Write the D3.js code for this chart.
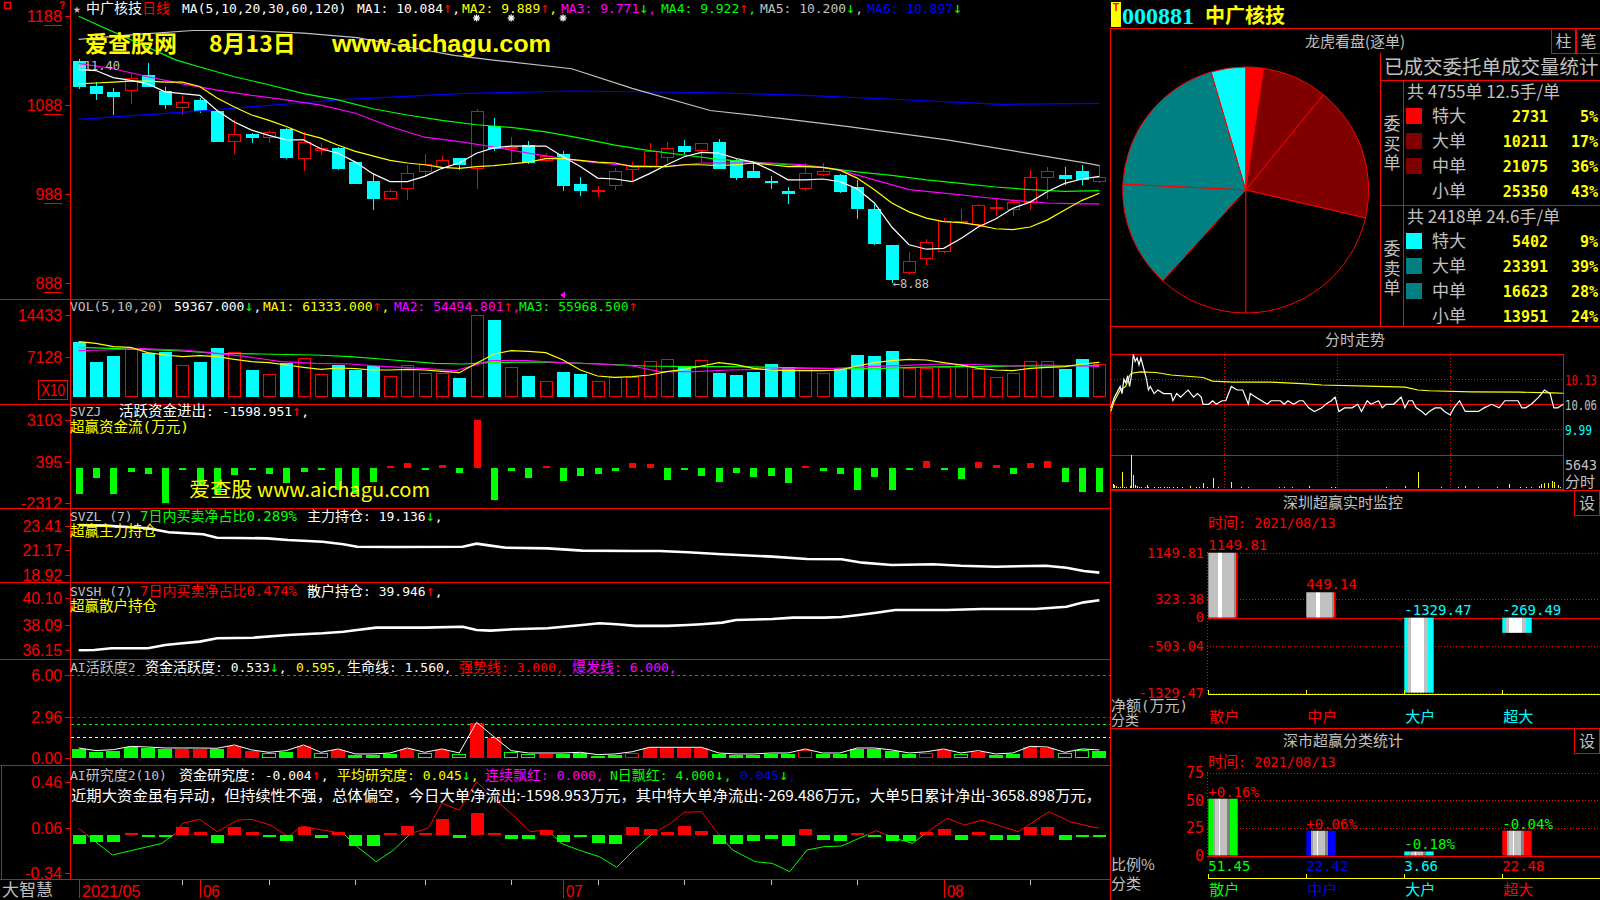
<!DOCTYPE html>
<html><head><meta charset="utf-8">
<script src="https://cdn.jsdelivr.net/npm/d3@7/dist/d3.min.js"></script>
<style>
html,body{margin:0;padding:0;background:#000;overflow:hidden;}
svg{display:block;}
</style></head><body>
<svg id="chart" width="1600" height="900"></svg>
<script>
// ================= DATA =================
const candleOpen  = [11.38,11.10,11.03,11.04,11.22,11.04,10.85,10.94,10.82,10.47,10.56,10.51,10.61,10.28,10.37,10.40,10.24,10.03,9.83,9.94,10.13,10.17,10.29,10.16,10.65,10.39,10.43,10.25,10.33,9.99,9.92,9.97,10.15,10.19,10.29,10.42,10.37,10.47,10.26,10.14,10.03,9.91,9.94,10.09,10.09,9.96,9.71,9.31,8.99,9.15,9.23,9.56,9.53,9.71,9.70,9.78,10.06,10.09,10.14,10.02];
const candleHigh  = [11.40,11.14,11.07,11.24,11.35,11.09,10.99,10.96,10.84,10.71,10.57,10.60,10.62,10.58,10.45,10.41,10.24,10.09,9.94,10.21,10.33,10.31,10.29,10.84,10.74,10.52,10.48,10.34,10.36,10.07,9.97,10.17,10.24,10.46,10.47,10.49,10.45,10.50,10.28,10.23,10.08,9.96,10.23,10.23,10.11,10.04,9.78,9.31,9.23,9.37,9.61,9.71,9.77,9.82,9.83,10.15,10.19,10.19,10.21,10.21];
const candleLow   = [11.06,10.94,10.77,10.89,11.09,10.84,10.77,10.79,10.47,10.33,10.45,10.45,10.28,10.14,10.32,10.15,9.99,9.70,9.81,9.81,10.07,10.15,10.15,9.94,10.37,10.24,10.22,10.24,9.92,9.86,9.85,9.93,10.03,10.17,10.24,10.33,10.24,10.16,10.04,10.06,9.94,9.77,9.91,10.08,9.89,9.60,9.31,8.88,8.97,9.08,9.22,9.54,9.51,9.63,9.63,9.70,9.83,9.98,9.98,10.00];
const candleClose = [11.09,11.01,10.97,11.19,11.09,10.88,10.92,10.81,10.47,10.56,10.51,10.58,10.29,10.47,10.40,10.16,9.99,9.82,9.92,10.12,10.22,10.26,10.21,10.81,10.39,10.41,10.23,10.31,9.97,9.92,9.93,10.14,10.21,10.36,10.40,10.35,10.45,10.16,10.06,10.06,10.00,9.88,10.12,10.14,9.90,9.71,9.32,8.91,9.13,9.34,9.58,9.58,9.76,9.74,9.79,10.07,10.14,10.05,10.04,10.07];
const priceTicks = [11.88,10.88,9.88,8.88];
const ma5  = [11.28,11.27,11.19,11.16,11.12,11.03,11.01,10.99,10.82,10.69,10.60,10.54,10.49,10.49,10.39,10.34,10.24,10.11,10.02,10.02,10.08,10.17,10.23,10.34,10.40,10.42,10.42,10.42,10.30,10.19,10.06,10.05,10.02,10.11,10.21,10.30,10.35,10.34,10.28,10.24,10.15,10.04,10.04,10.05,10.02,9.94,9.78,9.51,9.31,9.26,9.27,9.38,9.51,9.60,9.72,9.79,9.91,10.00,10.05,10.08];
const ma10 = [11.12,11.13,11.14,11.15,11.15,11.14,11.14,11.09,10.96,10.86,10.77,10.71,10.64,10.56,10.51,10.43,10.36,10.31,10.26,10.23,10.21,10.18,10.17,10.19,10.20,10.22,10.24,10.28,10.28,10.26,10.24,10.23,10.19,10.19,10.19,10.21,10.21,10.20,10.21,10.23,10.21,10.19,10.19,10.18,10.15,10.06,9.93,9.78,9.68,9.61,9.57,9.56,9.53,9.49,9.48,9.51,9.59,9.70,9.81,9.89];
const ma20 = [[0,11.35],[2,11.29],[4,11.20],[6,11.12],[8,11.05],[10,10.99],[12,10.94],[14,10.88],[16,10.79],[18,10.64],[20,10.52],[22,10.47],[24,10.41],[26,10.34],[28,10.28],[30,10.23],[32,10.20],[34,10.19],[36,10.23],[38,10.23],[40,10.23],[42,10.21],[44,10.15],[46,10.04],[48,9.93],[50,9.89],[52,9.85],[54,9.81],[56,9.78],[58,9.77],[59,9.77]];
const ma30 = [[0,11.88],[5.6,11.39],[7,11.31],[9,11.20],[11,11.11],[13,11.01],[15,10.94],[17,10.84],[19,10.77],[21,10.71],[23,10.66],[25,10.63],[27,10.58],[29,10.51],[31,10.43],[33,10.37],[35,10.32],[37,10.27],[39,10.24],[41,10.21],[43,10.18],[45,10.13],[47,10.09],[49,10.04],[51,10.00],[53,9.96],[55,9.93],[57,9.91],[59,9.92]];
const ma60 = [[0,11.62],[3,11.67],[6.6,11.72],[9.9,11.72],[13,11.69],[16.1,11.64],[21.7,11.44],[24.1,11.385],[28.5,11.29],[32,11.07],[36.5,10.82],[40.7,10.73],[44.5,10.64],[50.2,10.49],[58.5,10.22],[59,10.20]];
const ma120 = [[0,10.72],[7.3,10.82],[15,10.94],[22,11.01],[28.5,11.04],[36.7,11.02],[42,10.99],[46.8,10.95],[53.3,10.89],[59,10.90]];
const maNames = ['MA1','MA2','MA3','MA4','MA5','MA6'];
const maNow   = [10.084,9.889,9.771,9.922,10.200,10.897];
const maDir   = ['↑','↑','↓','↑','↓','↓'];
const markerIdx = [23,25,28];

const volume = [9761,6258,7309,8418,7718,8010,5675,6258,8594,8010,4799,4098,6083,6842,4098,5675,4799,5499,3748,5675,4215,4215,3398,14433,13556,5383,3748,2872,4449,4098,2872,3514,3514,6375,6667,5499,6492,4332,3865,4449,5850,5383,5091,4215,5032,7426,7251,8068,5207,5207,5266,5675,4916,3514,4332,6434,6434,5032,6667,5937];
const volTicks = [14433,7128];
const volMa5 = [9761,9469,8885,8769,7835,7426,7134,7309,7134,6667,6258,6083,5675,5266,4916,5149,5032,4799,4799,4916,4799,4565,4332,5966,7601,8185,8068,7835,6550,4799,3748,3514,3631,3923,4507,4916,5499,6083,5733,5091,4799,4682,4682,4682,4799,5499,6083,6434,6667,6550,6083,5675,5091,4799,4682,5091,5266,5383,5850,6133];
const volMa10 = [[0,8185],[1.5,8302],[3.6,8535],[6,8302],[7.6,7835],[9.7,7134],[11.7,6258],[13.7,5966],[15.7,5850],[17.8,5383],[19.8,5091],[21.8,4682],[23.8,6434],[25.9,6434],[27.9,6083],[29.9,5850],[32,5499],[33.6,4507],[35.6,4507],[37.6,4799],[39.7,4916],[41.7,5032],[43.7,5091],[45.7,5383],[47.8,5616],[49.8,5850],[51.8,5733],[53.9,5499],[55.9,5675],[57.9,5499],[59,5449]];
const volMa20 = [[0,8769],[1.9,8594],[3.6,8418],[6,8127],[8,7718],[10.5,7601],[13.7,7426],[15.7,7134],[18.2,6550],[20.6,5966],[22.2,5850],[23.8,6083],[26.3,6200],[27.9,6083],[30.3,5850],[32.8,5499],[35.2,5383],[37.6,5383],[40.1,5266],[42.1,5149],[44.1,5032],[46.1,5032],[48.2,5266],[50.2,5383],[52.2,5383],[54.3,5499],[56.3,5499],[59,5597]];
const volReadout = ['59367.000','61333.000','54494.801','55968.500'];

const svzj = [-1701,-682,-1701,-253,-403,-2290,-143,-1117,-1701,-468,-143,-403,-1009,-253,-143,-1442,-1701,-900,50,290,-80,180,-360,3103,-2100,-190,-640,40,-835,-530,-403,-190,290,225,-790,-143,-530,-900,-317,-575,-530,-965,40,-190,-403,-1442,-575,-1442,-60,440,-50,-760,355,200,-403,290,440,-900,-1550,-1599];
const svzjTicks = [3103,395,-2312];

const svzl = [[0,23.50],[1.5,23.44],[4,23.20],[5.2,22.83],[7.2,22.65],[8,22.34],[10.9,22.28],[12.1,22.13],[14.1,21.97],[15.3,21.73],[16.1,21.51],[18.2,21.49],[22.2,21.51],[23,21.79],[23.8,21.61],[24.7,21.42],[27.1,21.36],[29.1,21.15],[32,21.12],[33.6,21.12],[35.2,21.00],[37.2,20.82],[40.1,20.60],[42.1,20.39],[44.1,20.36],[45.3,20.05],[47,19.84],[49.4,19.90],[51,19.77],[53,19.68],[55.9,19.77],[57.1,19.59],[58.1,19.29],[59,19.14]];
const svzlTicks = [23.41,21.17,18.92];
const svsh = [[0,36.13],[0.9,36.15],[1.9,36.28],[4,36.28],[5,36.53],[6,36.66],[7,36.79],[8,37.05],[10.1,37.09],[12.1,37.30],[14.1,37.43],[15.3,37.55],[16.1,37.68],[17.2,37.86],[19,37.86],[20,37.86],[22.2,37.93],[23,37.68],[23.8,37.63],[25.1,37.73],[27.1,37.81],[29.1,38.06],[30.1,38.19],[31.1,38.12],[32.2,37.99],[34,37.99],[35.2,38.06],[36,38.12],[37.2,38.24],[38,38.44],[40.1,38.52],[41.3,38.62],[43.1,38.62],[44.1,38.67],[45.1,38.83],[46.1,39.00],[47.2,39.21],[50.2,39.21],[52.2,39.28],[54.1,39.28],[55.3,39.28],[56.3,39.38],[57.1,39.46],[58.1,39.79],[59,39.95]];
const svshTicks = [40.10,38.09,36.15];

const aiAct = [0.67,0.48,0.55,0.79,0.74,0.67,0.67,0.67,0.65,0.89,0.53,0.36,0.48,0.89,0.36,0.60,0.24,0.24,0.31,0.67,0.36,0.60,0.31,2.52,1.48,0.48,0.31,0.31,0.31,0.36,0.19,0.24,0.40,0.72,0.72,0.72,0.72,0.31,0.24,0.24,0.31,0.31,0.60,0.31,0.31,0.67,0.67,0.53,0.31,0.40,0.60,0.31,0.48,0.24,0.31,0.79,0.74,0.36,0.60,0.53];
const aiType = "GGGGGGRRGRRgGRgRGGGRgRgRRggRGGGGrRRRRGGGGGrGGGGGGrRgRGGRRggG".split('');
const aiTicks = [6.00,2.96,0.00];
const aiLevels = [[6.0,'#ff00ff'],[3.0,'#ff0000'],[2.5,'#00ff00'],[1.56,'#ffffff']];

const aiResBars = [-0.083,-0.062,-0.062,0.005,-0.005,-0.024,0.064,0.026,-0.071,0.070,0.026,-0.020,-0.053,0.070,-0.030,0.026,-0.097,-0.097,0.005,0.076,0.010,0.134,-0.030,0.187,0.010,-0.038,-0.038,0.040,-0.062,-0.020,-0.077,-0.083,0.064,0.047,0.026,0.076,0.030,-0.086,-0.083,-0.053,-0.040,-0.097,0.047,-0.050,-0.053,0.005,-0.010,-0.053,-0.053,0.020,0.050,-0.044,0.020,-0.044,-0.044,0.064,0.064,-0.044,-0.010,-0.004];
const aiResLine = [[0,0.055],[1.95,-0.179],[4.8,-0.077],[5.6,0.011],[6,0.099],[7,0.134],[8,0.026],[9.2,0.128],[10,0.134],[11.1,0.084],[12.1,-0.018],[12.9,0.076],[14.1,0.040],[15.3,0.011],[16.1,-0.106],[17.2,-0.238],[18.2,-0.135],[19.2,0.011],[20.2,0.055],[21,0.275],[22,0.216],[23,0.465],[24,0.319],[25.1,0.172],[26.1,0.026],[27.1,0.040],[27.9,-0.077],[28.9,-0.135],[30.1,-0.194],[31.1,-0.288],[32.2,-0.121],[33.2,0.011],[34.2,0.099],[35,0.196],[36,0.202],[36.8,0.040],[37.8,-0.135],[39.1,-0.238],[40.1,-0.253],[41.1,-0.326],[42.1,-0.135],[43.1,-0.106],[44.1,-0.100],[45.1,-0.033],[46.1,0.035],[47.2,-0.033],[48.2,-0.077],[49.2,0.040],[50.2,0.143],[51.2,0.084],[52.2,0.128],[54.3,0.026],[56.1,0.202],[57.3,0.114],[58.7,0.064],[59,0.060]];
const aiResTicks = [0.46,0.06,-0.34];
const aiResComment = "近期大资金虽有异动，但持续性不强，总体偏空，今日大单净流出:-1598.953万元，其中特大单净流出:-269.486万元，大单5日累计净出-3658.898万元，";

const monthTicks = [[0,'2021/05'],[7,'06'],[28,'07'],[50,'08']];
const weekTicks = [6,11,16,20,25,30,35,40,45,55];

// right panel
const orderLabels = ['特大','大单','中单','小单'];
const buyVals  = [2731,10211,21075,25350];
const buyPct   = ['5%','17%','36%','43%'];
const sellVals = [5402,23391,16623,13951];
const sellPct  = ['9%','39%','28%','24%'];
const buySummary  = [4755, 12.5];
const sellSummary = [2418, 24.6];
const buyColors  = ['#ff0000','#800000','#800000','#000000'];
const sellColors = ['#00ffff','#008080','#008080','#000000'];

const intraPrice = [[0,10.05],[2,10.08],[4,10.10],[5,10.11],[6,10.09],[7,10.13],[8,10.12],[9,10.14],[10,10.11],[11,10.14],[12,10.20],[13,10.18],[14,10.19],[15,10.17],[16,10.19],[17,10.17],[18,10.15],[19,10.13],[20,10.10],[21,10.11],[23,10.09],[25,10.10],[28,10.09],[31,10.09],[32,10.09],[33,10.07],[35,10.09],[37,10.08],[39,10.09],[41,10.10],[44,10.08],[46,10.09],[48,10.08],[49,10.06],[52,10.06],[54,10.07],[56,10.06],[59,10.07],[61,10.07],[64,10.11],[67,10.10],[70,10.10],[73,10.06],[74,10.09],[77,10.08],[80,10.07],[83,10.06],[85,10.07],[90,10.07],[92,10.06],[94,10.07],[97,10.06],[100,10.07],[102,10.07],[105,10.05],[108,10.04],[112,10.05],[114,10.06],[117,10.07],[119,10.08],[121,10.04],[124,10.05],[128,10.05],[131,10.06],[133,10.04],[136,10.07],[138,10.06],[142,10.07],[144,10.05],[146,10.06],[150,10.06],[152,10.07],[154,10.08],[156,10.05],[158,10.07],[160,10.07],[162,10.05],[165,10.04],[167,10.03],[169,10.04],[172,10.05],[175,10.05],[177,10.04],[180,10.03],[182,10.05],[185,10.07],[188,10.04],[191,10.04],[195,10.04],[198,10.05],[202,10.06],[206,10.05],[209,10.07],[213,10.07],[216,10.07],[218,10.05],[220,10.05],[223,10.06],[227,10.08],[230,10.10],[233,10.09],[235,10.05],[237,10.05],[240,10.06]];
const intraAvg = [[0,10.04],[2,10.07],[5,10.10],[8,10.11],[10,10.14],[11,10.147],[16,10.151],[24,10.149],[32,10.142],[49,10.135],[54,10.125],[65,10.122],[85,10.122],[104,10.117],[112,10.114],[136,10.111],[156,10.108],[163,10.100],[169,10.098],[191,10.095],[217,10.094],[234,10.092],[240,10.091]];
const intraVol = [[1,677],[2,564],[3,451],[4,282],[5,169],[6,2822],[7,282],[8,226],[10,395],[11,5643],[12,2257],[13,564],[14,395],[15,282],[16,169],[18,169],[19,564],[20,282],[23,169],[25,282],[26,169],[28,282],[30,169],[31,282],[33,282],[35,169],[38,282],[42,451],[45,169],[47,282],[49,846],[51,282],[54,1806],[57,169],[64,1016],[69,169],[73,282],[89,169],[92,169],[96,169],[105,451],[117,282],[119,282],[146,282],[156,451],[163,2822],[175,282],[184,169],[188,451],[195,169],[205,169],[211,677],[217,282],[220,169],[223,282],[227,451],[228,733],[230,846],[232,960],[234,1298],[235,1129],[237,564],[238,282]];
const intraTicks = [[10.13,'#ff0000'],[10.06,'#c0c0c0'],[9.99,'#00ffff']];
const intraVolMax = 5643;

const groupCats = ['散户','中户','大户','超大'];
const netFlow = [1149.81,449.14,-1329.47,-269.49];
const netTicks = [1149.81,323.38,0,-503.04,-1329.47];
const shareVals = [51.45,22.42,3.66,22.48];
const shareChange = ['+0.16%','+0.06%','-0.18%','-0.04%'];
const shareTicks = [75,50,25,0];
const shareColors = ['#00ff00','#0000ff','#00ffff','#ff0000'];
const reportDate = '2021/08/13';

// ================= DRAW =================
const RED='#ff0000', CYAN='#00ffff', GREEN='#00ff00', YEL='#ffff00', MAG='#ff00ff', GRAY='#c0c0c0', BLUE='#0000ff', WHITE='#ffffff';
const MONO='"DejaVu Sans Mono","Noto Sans CJK SC",monospace';
const CJK='"Noto Sans CJK SC","DejaVu Sans",sans-serif';
const AX='"Liberation Sans",Arial,sans-serif';
const svg = d3.select('#chart');
svg.append('rect').attr('width',1600).attr('height',900).attr('fill','#000');
const defs = svg.append('defs');

function txt(x,y,parts,opt={}){
  const t=svg.append('text').attr('x',x).attr('y',y)
    .style('font-family',opt.ff||MONO).style('font-size',(opt.fs||13)+'px');
  if(opt.anchor) t.attr('text-anchor',opt.anchor);
  if(opt.fw) t.style('font-weight',opt.fw);
  if(opt.tl) t.attr('textLength',opt.tl).attr('lengthAdjust','spacingAndGlyphs');
  (typeof parts==='string'?[[parts,opt.fill||GRAY]]:parts).forEach(p=>{
    const s=t.append('tspan').attr('fill',p[1]).text(p[0]);
    if(p[0]==='↑'||p[0]==='↓') s.style('font-size','15px').style('font-family','"DejaVu Sans Mono",monospace');
    else if(p[2]) s.style('font-size',p[2]+'px');
  });
  return t;
}
function hline(x1,x2,y,col,dash,w){ return svg.append('line').attr('x1',x1).attr('x2',x2).attr('y1',y).attr('y2',y)
  .attr('stroke',col||RED).attr('stroke-width',w||1).attr('stroke-dasharray',dash||null).style('shape-rendering','crispEdges'); }
function vline(x,y1,y2,col,dash,w){ return svg.append('line').attr('x1',x).attr('x2',x).attr('y1',y1).attr('y2',y2)
  .attr('stroke',col||RED).attr('stroke-width',w||1).attr('stroke-dasharray',dash||null).style('shape-rendering','crispEdges'); }
function charW(s){ let w=0; for(const ch of s){ w += (ch==='.'?4.4:(ch==='-'?6:8.8)); } return w; }

// x scales
const xB = d3.scaleBand().domain(d3.range(60)).range([70,1108]);
const cx = i => xB(i) + xB.bandwidth()/2;
const xl = d3.scaleLinear().domain([0,59]).range([cx(0),cx(59)]);

// y scales
const yP   = d3.scaleLinear().domain([8.88,11.88]).range([283,16.3]);
const yV   = d3.scaleLinear().domain([0,14433]).range([397.4,315]);
const yZJ  = d3.scaleLinear().domain([-2312,3103]).range([503.4,420]);
const yZL  = d3.scaleLinear().domain([18.92,23.41]).range([575,526]);
const ySH  = d3.scaleLinear().domain([36.15,40.10]).range([650,598.3]);
const yAI  = d3.scaleLinear().domain([0,6]).range([758.3,675]);
const yAR  = d3.scaleLinear().domain([-0.34,0.46]).range([873.3,782.3]);

function leftAxis(scale, ticks, fmt){
  const g = svg.append('g').attr('transform','translate(70,0)')
    .call(d3.axisLeft(scale).tickValues(ticks).tickFormat(fmt).tickSize(5).tickPadding(3));
  g.select('.domain').remove();
  g.selectAll('.tick line').attr('stroke',RED).style('shape-rendering','crispEdges');
  g.selectAll('.tick text').attr('fill',RED).style('font-family',AX).style('font-size','17px')
    .each(function(){ const s=this.textContent; this.setAttribute('textLength',charW(s)); this.setAttribute('lengthAdjust','spacingAndGlyphs'); });
  return g;
}

// ---------- frame lines ----------
[299.5,404.5,508.5,582.5,659.5,765.5,879.5].forEach(y=>hline(0,1110,y));
vline(70.5,0,880);
vline(1.5,766,880);
vline(1110.5,28,900);

// ---------- main candle panel ----------
const gA = leftAxis(yP, priceTicks, d=>String(Math.round(d*100)));
gA.selectAll('.tick').append('line').attr('x1',-8-2*8.8).attr('x2',-8).attr('y1',8.5).attr('y2',8.5)
  .attr('stroke',RED).style('shape-rendering','crispEdges');

const gC = svg.append('g').style('shape-rendering','crispEdges');
d3.range(60).forEach(i=>{
  const o=candleOpen[i], c=candleClose[i], h=candleHigh[i], l=candleLow[i];
  const x=Math.round(cx(i));
  const up = c>=o;
  const top=Math.round(yP(Math.max(o,c))), bot=Math.round(yP(Math.min(o,c)));
  if(up){
    gC.append('line').attr('x1',x+0.5).attr('x2',x+0.5).attr('y1',yP(h)).attr('y2',top).attr('stroke',RED);
    gC.append('line').attr('x1',x+0.5).attr('x2',x+0.5).attr('y1',bot).attr('y2',yP(l)).attr('stroke',RED);
    gC.append('rect').attr('x',x-6+0.5).attr('y',top+0.5).attr('width',12).attr('height',Math.max(1,bot-top-1))
      .attr('fill','#000').attr('stroke',RED);
  } else {
    gC.append('line').attr('x1',x+0.5).attr('x2',x+0.5).attr('y1',yP(h)).attr('y2',yP(l)).attr('stroke',CYAN);
    gC.append('rect').attr('x',x-6).attr('y',top).attr('width',13).attr('height',Math.max(1,bot-top)).attr('fill',CYAN);
  }
});
const lineP = d3.line().x(d=>xl(d[0])).y(d=>yP(d[1]));
const maSeries = [[ma120,BLUE],[ma60,GRAY],[ma30,GREEN],[ma20,MAG],[ma10.map((v,i)=>[i,v]),YEL],[ma5.map((v,i)=>[i,v]),WHITE]];
maSeries.forEach(([d,c])=>svg.append('path').attr('d',lineP(d)).attr('fill','none').attr('stroke',c).attr('stroke-width',1.2));

// extremes labels
const hiI = d3.maxIndex(candleHigh), loI = d3.minIndex(candleLow);
txt(cx(hiI)-2, yP(candleHigh[hiI])+11, [['←',GRAY],[candleHigh[hiI].toFixed(2),GRAY]], {fs:12});
txt(cx(loI)+1, yP(candleLow[loI])+5, [['←',GRAY],[candleLow[loI].toFixed(2),GRAY]], {fs:12});
// markers
markerIdx.forEach(i=>{
  const x=cx(i), y=18;
  const g=svg.append('g').attr('stroke',WHITE).attr('stroke-width',1.3);
  [[0,-3.5,0,3.5],[-3.5,0,3.5,0],[-2.5,-2.5,2.5,2.5],[-2.5,2.5,2.5,-2.5]].forEach(a=>g.append('line')
    .attr('x1',x+a[0]).attr('y1',y+a[1]).attr('x2',x+a[2]).attr('y2',y+a[3]));
});
svg.append('path').attr('d',`M${cx(markerIdx[2])-3},295 L${cx(markerIdx[2])+2},291.5 L${cx(markerIdx[2])+2},298.5 Z`).attr('fill',MAG);

// header
svg.append('rect').attr('x',4.5).attr('y',2.5).attr('width',6).attr('height',6).attr('fill','none').attr('stroke',RED).attr('stroke-width',1.5);
txt(59,9,[['?',RED]],{fs:10,fw:'bold',ff:AX});
txt(73,13,[['★',GRAY]]);
txt(86,13,[['中广核技',WHITE,14],['日线',RED,14]]);
txt(182,13,[['MA(5,10,20,30,60,120)',WHITE]]);
const maX=[357,462,561,661,760,867], maCol=[WHITE,YEL,MAG,GREEN,GRAY,BLUE];
maNames.forEach((n,k)=>txt(maX[k],13,[[`${n}: ${maNow[k].toFixed(3)}`,maCol[k]],[maDir[k],maDir[k]==='↑'?RED:GREEN],[k<5?',':'',maCol[k]]]));
// watermark
txt(85,52,[['爱查股网',YEL]],{ff:CJK,fs:23,fw:'bold'});
txt(209,52,[['8月13日',YEL]],{ff:CJK,fs:23,fw:'bold'});
txt(332,52,[['www.aichagu.com',YEL]],{ff:AX,fs:24,fw:'bold',tl:219});

// ---------- volume panel ----------
leftAxis(yV, volTicks, d=>String(d));
svg.append('rect').attr('x',38.5).attr('y',380.5).attr('width',29).attr('height',19).attr('fill','none').attr('stroke',RED);
txt(53,396,[['X10',RED]],{ff:AX,fs:16,anchor:'middle',tl:24});
const gVb = svg.append('g').style('shape-rendering','crispEdges');
volume.forEach((v,i)=>{
  const x=Math.round(cx(i)), up=candleClose[i]>=candleOpen[i];
  const top=Math.round(yV(v)), bot=Math.round(yV(0));
  if(up) gVb.append('rect').attr('x',x-6+0.5).attr('y',top+0.5).attr('width',12).attr('height',bot-top-1).attr('fill','#000').attr('stroke',RED);
  else gVb.append('rect').attr('x',x-6).attr('y',top).attr('width',13).attr('height',bot-top).attr('fill',CYAN);
});
const lineV = d3.line().x(d=>xl(d[0])).y(d=>yV(d[1]));
[[volMa20,GREEN],[volMa10,MAG],[volMa5.map((v,i)=>[i,v]),YEL]].forEach(([d,c])=>
  svg.append('path').attr('d',lineV(d)).attr('fill','none').attr('stroke',c).attr('stroke-width',1.2));
txt(70,311,[['VOL(5,10,20)',GRAY]]);
txt(174,311,[[volReadout[0],WHITE],['↓',GREEN],[',',WHITE]]);
txt(263,311,[['MA1: '+volReadout[1],YEL],['↑',RED],[',',YEL]]);
txt(394,311,[['MA2: '+volReadout[2],MAG],['↑',RED],[',',MAG]]);
txt(519,311,[['MA3: '+volReadout[3],GREEN],['↑',RED]]);

// ---------- SVZJ ----------
leftAxis(yZJ, svzjTicks, d=>String(d));
const gZ = svg.append('g').style('shape-rendering','crispEdges');
svzj.forEach((v,i)=>{
  const x=Math.round(cx(i)), y0=yZJ(0), y1=yZJ(v);
  const h=Math.max(2,Math.abs(y1-y0));
  gZ.append('rect').attr('x',x-3).attr('width',7).attr('y',v>=0?y0-h:y0).attr('height',h).attr('fill',v>=0?RED:GREEN);
});
txt(70,416,[['SVZJ',GRAY]]);
txt(119,416,[['活跃资金进出',WHITE,14.5],[': -1598.951',WHITE],['↑',RED],[',',WHITE]]);
txt(70,432,[['超赢资金流(万元)',YEL,14.5]]);
txt(189,497,[['爱查股 ',YEL,20],['www.aichagu.com',YEL]],{ff:CJK,fs:19,tl:241});

// ---------- SVZL ----------
leftAxis(yZL, svzlTicks, d=>d.toFixed(2));
svg.append('path').attr('d',d3.line().x(d=>xl(d[0])).y(d=>yZL(d[1]))(svzl)).attr('fill','none').attr('stroke',WHITE).attr('stroke-width',2.6);
txt(70,521,[['SVZL (7)',GRAY]]);
txt(140,521,[['7日内买卖净占比0.289%',GREEN,14]]);
txt(307,521,[['主力持仓',WHITE,14],[': 19.136',WHITE],['↓',GREEN],[',',WHITE]]);
txt(70,536,[['超赢主力持仓',YEL,14.5]]);

// ---------- SVSH ----------
leftAxis(ySH, svshTicks, d=>d.toFixed(2));
svg.append('path').attr('d',d3.line().x(d=>xl(d[0])).y(d=>ySH(d[1]))(svsh)).attr('fill','none').attr('stroke',WHITE).attr('stroke-width',2.6);
txt(70,596,[['SVSH (7)',GRAY]]);
txt(140,596,[['7日内买卖净占比0.474%',RED,14]]);
txt(307,596,[['散户持仓',WHITE,14],[': 39.946',WHITE],['↑',RED],[',',WHITE]]);
txt(70,611,[['超赢散户持仓',YEL,14.5]]);

// ---------- AI活跃度 ----------
leftAxis(yAI, aiTicks, d=>d.toFixed(2));
aiLevels.forEach(([v,c])=>hline(71,1110,Math.round(yAI(v))+0.5,c,'3,3'));
const gAI = svg.append('g').style('shape-rendering','crispEdges');
aiAct.forEach((v,i)=>{
  const x=Math.round(cx(i)), t=aiType[i], col=(t==='R'||t==='r')?RED:GREEN, hollow=(t==='r'||t==='g');
  const top=Math.round(yAI(v)), bot=Math.round(yAI(0));
  if(hollow) gAI.append('rect').attr('x',x-7+0.5).attr('y',top+0.5).attr('width',13).attr('height',bot-top-1).attr('fill','#000').attr('stroke',col);
  else gAI.append('rect').attr('x',x-7).attr('y',top).attr('width',14).attr('height',bot-top).attr('fill',col);
});
svg.append('path').attr('d',d3.line().x((d,i)=>cx(i)).y(d=>yAI(d)-1)(aiAct)).attr('fill','none').attr('stroke',WHITE).attr('stroke-width',1);
txt(70,672,[['AI',GRAY],['活跃度',GRAY,14],['2',GRAY]]);
txt(145,672,[['资金活跃度',WHITE,14],[': 0.533',WHITE],['↓',GREEN],[',',WHITE]]);
txt(296,672,[['0.595,',YEL]]);
txt(347,672,[['生命线',WHITE,14],[': 1.560,',WHITE]]);
txt(459,672,[['强势线',RED,14],[': 3.000,',RED]]);
txt(572,672,[['爆发线',MAG,14],[': 6.000,',MAG]]);

// ---------- AI研究度 ----------
leftAxis(yAR, aiResTicks, d=>d.toFixed(2));
const gAR = svg.append('g').style('shape-rendering','crispEdges');
aiResBars.forEach((v,i)=>{
  const x=Math.round(cx(i)), y0=yAR(0), y1=yAR(v);
  const h=Math.max(2,Math.abs(y1-y0));
  gAR.append('rect').attr('x',x-6).attr('width',13).attr('y',v>=0?y0-h:y0).attr('height',h).attr('fill',v>=0?RED:GREEN);
});
const arSegs=[];
for(let k=0;k<aiResLine.length-1;k++){
  const a=aiResLine[k], b=aiResLine[k+1];
  if((a[1]>=0)===(b[1]>=0)) arSegs.push([a,b,a[1]>=0?RED:GREEN]);
  else { const t=a[1]/(a[1]-b[1]); const m=[a[0]+(b[0]-a[0])*t,0]; arSegs.push([a,m,a[1]>=0?RED:GREEN]); arSegs.push([m,b,b[1]>=0?RED:GREEN]); }
}
const lineAR = d3.line().x(d=>xl(d[0])).y(d=>yAR(d[1]));
arSegs.forEach(s=>svg.append('path').attr('d',lineAR([s[0],s[1]])).attr('fill','none').attr('stroke',s[2]).attr('stroke-width',1));
txt(70,780,[['AI',GRAY],['研究度',GRAY,14],['2(10)',GRAY]]);
txt(179,780,[['资金研究度',WHITE,14],[': -0.004',WHITE],['↑',RED],[',',WHITE]]);
txt(337,780,[['平均研究度',YEL,14],[': 0.045',YEL],['↓',GREEN],[',',YEL]]);
txt(485,780,[['连续飘红',MAG,14],[': 0.000,',MAG]]);
txt(610,780,[['N',GREEN],['日飘红',GREEN,14],[': 4.000',GREEN],['↓',GREEN],[',',GREEN]]);
txt(740,780,[['0.045',BLUE],['↓',GREEN],[',',BLUE]]);
txt(71,801,[[aiResComment,WHITE]],{ff:CJK,fs:15,tl:1030});

// ---------- date axis ----------
txt(2,896,[['大智慧',GRAY]],{ff:CJK,fs:17});
weekTicks.forEach(i=>vline(Math.round(cx(i))+0.5,880,885,GRAY));
monthTicks.forEach(([i,s])=>{
  vline(Math.round(cx(i))+0.5,880,898,RED);
  txt(Math.round(cx(i))+3,897,[[s,RED]],{ff:AX,fs:17,tl:charW(s)*0.95});
});

// ================= RIGHT PANEL =================
hline(1110,1600,28.5);
svg.append('rect').attr('x',1111).attr('y',2).attr('width',10).attr('height',25).attr('fill',YEL);
txt(1116,11,[['T',RED]],{ff:AX,fs:10,fw:'bold',anchor:'middle'});
txt(1122,24,[['000881',CYAN]],{ff:'"Liberation Serif",serif',fs:24,fw:'bold'});
txt(1205,23,[['中广核技',YEL]],{ff:CJK,fs:20,fw:'bold'});

// title + buttons
txt(1355,47,[['龙虎看盘(逐单)',GRAY]],{ff:CJK,fs:15,anchor:'middle'});
[[1551.5,'柱'],[1576.5,'笔']].forEach(([x,s])=>{
  svg.append('rect').attr('x',x).attr('y',28.5).attr('width',24).attr('height',25).attr('fill','none').attr('stroke',RED);
  txt(x+12,47,[[s,GRAY]],{ff:CJK,fs:16,anchor:'middle'});
});

// pie
const pieC=[1245.7,190], pieR=123;
const arc = d3.arc().innerRadius(0).outerRadius(pieR);
const gPie = svg.append('g').attr('transform',`translate(${pieC[0]},${pieC[1]})`);
const buyArcs = d3.pie().sort(null).startAngle(0).endAngle(Math.PI)(buyVals);
const sellArcs = d3.pie().sort(null).startAngle(0).endAngle(-Math.PI)(sellVals);
buyArcs.forEach((a,k)=>gPie.append('path').attr('d',arc(a)).attr('fill',buyColors[k]).attr('stroke',RED).attr('stroke-width',1));
sellArcs.forEach((a,k)=>gPie.append('path').attr('d',arc(a)).attr('fill',sellColors[k]).attr('stroke',RED).attr('stroke-width',1));

// stats table
vline(1380.5,53,326);
hline(1381,1600,80.5);
vline(1403.5,80,326);
hline(1381,1600,205.5);
hline(1110,1600,326.5);
txt(1384,74,[['已成交委托单成交量统计',GRAY]],{ff:CJK,fs:19.5});
txt(1407,98,[[`共 ${buySummary[0]}单 ${buySummary[1]}手/单`,GRAY]],{ff:CJK,fs:17});
txt(1407,223,[[`共 ${sellSummary[0]}单 ${sellSummary[1]}手/单`,GRAY]],{ff:CJK,fs:17});
['委','买','单'].forEach((c,k)=>txt(1392,130+k*19.5,[[c,GRAY]],{ff:CJK,fs:17,anchor:'middle'}));
['委','卖','单'].forEach((c,k)=>txt(1392,255+k*19.5,[[c,GRAY]],{ff:CJK,fs:17,anchor:'middle'}));
const rowY0=[116,141,166,191], rowY1=[241,266,291,316];
orderLabels.forEach((lab,k)=>{
  [[rowY0[k],buyColors[k],buyVals[k],buyPct[k]],[rowY1[k],sellColors[k],sellVals[k],sellPct[k]]].forEach(([y,col,v,p])=>{
    if(col!=='#000000') svg.append('rect').attr('x',1406).attr('y',y-8).attr('width',16).attr('height',16).attr('fill',col);
    txt(1432,y+6,[[lab,GRAY]],{ff:CJK,fs:17});
    txt(1548,y+6,[[String(v),YEL]],{ff:MONO,fs:15,anchor:'end',fw:'bold'});
    txt(1598,y+6,[[p,YEL]],{ff:MONO,fs:15,anchor:'end',fw:'bold'});
  });
});

// ---------- intraday ----------
txt(1355,345,[['分时走势',GRAY]],{ff:CJK,fs:15,anchor:'middle'});
const xM = d3.scaleLinear().domain([0,240]).range([1110.7,1563.3]);
const yM = d3.scaleLinear().domain([9.99,10.13]).range([429.3,379.3]);
const yMV = d3.scaleLinear().domain([0,intraVolMax]).range([488.3,455]);
svg.append('rect').attr('x',1110.5).attr('y',354.5).attr('width',453).attr('height',135).attr('fill','none').attr('stroke',RED).style('shape-rendering','crispEdges');
hline(1110,1564,455.5);
[60,120,180].forEach(m=>vline(Math.round(xM(m))+0.5,355,489,RED,'1,2'));
intraTicks.forEach(([v,c])=>{
  const y=Math.round(yM(v))+0.5;
  if(v===10.06) hline(1110,1564,y); else hline(1111,1563,y,RED,'1,2');
  txt(1565,y+5,[[v.toFixed(2),c]],{ff:MONO,fs:14,tl:v>=10?32:27});
});
txt(1565,470,[[String(intraVolMax),GRAY]],{ff:MONO,fs:14,tl:32});
txt(1565,487,[['分时',GRAY]],{ff:CJK,fs:15});
const gIV = svg.append('g').style('shape-rendering','crispEdges');
intraVol.forEach(([m,v])=>gIV.append('line').attr('x1',Math.round(xM(m))+0.5).attr('x2',Math.round(xM(m))+0.5)
  .attr('y1',yMV(0)).attr('y2',yMV(v)).attr('stroke',YEL));
const lineM = d3.line().x(d=>xM(d[0])).y(d=>yM(d[1]));
svg.append('path').attr('d',lineM(intraAvg)).attr('fill','none').attr('stroke',YEL).attr('stroke-width',1.2);
svg.append('path').attr('d',lineM(intraPrice)).attr('fill','none').attr('stroke',WHITE).attr('stroke-width',1.2);

// gradients for bars
function hard(id, segs){
  const g=defs.append('linearGradient').attr('id',id).attr('x1',0).attr('x2',1).attr('y1',0).attr('y2',0);
  segs.forEach(([a,b,c])=>{ g.append('stop').attr('offset',a).attr('stop-color',c); g.append('stop').attr('offset',b).attr('stop-color',c); });
}
hard('mPos',[[0,0.32,'#c0c0c0'],[0.32,0.45,'#ffffff'],[0.45,0.88,'#c0c0c0'],[0.88,0.93,'#909090'],[0.93,1,RED]]);
hard('mNeg',[[0,0.11,CYAN],[0.11,0.22,'#c0c0c0'],[0.22,0.66,'#ffffff'],[0.66,0.82,'#c0c0c0'],[0.82,1,CYAN]]);
shareColors.forEach((c,k)=>hard('sh'+k,[[0,0.15,c],[0.15,0.24,'#a0a0a0'],[0.24,0.37,'#c8c8c8'],[0.37,0.41,'#ffffff'],[0.41,0.63,'#c0c0c0'],[0.63,0.75,'#808080'],[0.75,1,c]]));

const xG = d3.scaleBand().domain(groupCats).range([1208.3,1531.7]).paddingInner(0.7).paddingOuter(0).align(0);

// ---------- 深圳超赢实时监控 ----------
hline(1110,1600,490.5);
txt(1343,508,[['深圳超赢实时监控',GRAY]],{ff:CJK,fs:15,anchor:'middle'});
svg.append('rect').attr('x',1574.5).attr('y',490.5).attr('width',25).attr('height',25).attr('fill','none').attr('stroke',RED);
txt(1587,509,[['设',GRAY]],{ff:CJK,fs:16,anchor:'middle'});
txt(1208,528,[['时间',RED,15],[': '+reportDate,RED]],{ff:MONO,fs:13.5});
const yN = d3.scaleLinear().domain([-1329.47,1149.81]).range([692.7,552.7]);
netTicks.forEach(v=>{ const y=Math.round(yN(v))+0.5; if(v===0) hline(1207,1600,y); else hline(1207,1600,y,RED,'1,2'); });
vline(1207.5,552,694,RED,'1,2');
const gNa = svg.append('g').attr('transform','translate(1207,0)').call(d3.axisLeft(yN).tickValues(netTicks).tickFormat(d=>d===0?'0':d.toFixed(2)).tickSize(0).tickPadding(3));
gNa.select('.domain').remove();
gNa.selectAll('.tick text').attr('fill',RED).style('font-family',MONO).style('font-size','13.5px');
netFlow.forEach((v,k)=>{
  const x=xG(groupCats[k]), w=xG.bandwidth(), y0=yN(0), y1=yN(v);
  svg.append('rect').attr('x',x).attr('width',w).attr('y',Math.min(y0,y1)).attr('height',Math.abs(y1-y0)).attr('fill',v>=0?'url(#mPos)':'url(#mNeg)');
  txt(x, v>=0? y1-3 : y0-3, [[v.toFixed(2), v>=0?RED:CYAN]], {ff:MONO,fs:14});
});
hline(1208,1600,694.5,YEL);
groupCats.forEach(c=>vline(Math.round(xG(c))+0.5,690,694,YEL));
txt(1111,711,[['净额',GRAY,15],['(',GRAY],['万元',GRAY,15],[')',GRAY]],{ff:MONO,fs:14});
txt(1111,725,[['分类',GRAY]],{ff:CJK,fs:14});
groupCats.forEach((c,k)=>txt(xG(c)+1,722,[[c,netFlow[k]>=0?RED:CYAN]],{ff:CJK,fs:15}));

// ---------- 深市超赢分类统计 ----------
hline(1110,1600,728.5);
txt(1343,746,[['深市超赢分类统计',GRAY]],{ff:CJK,fs:15,anchor:'middle'});
svg.append('rect').attr('x',1574.5).attr('y',728.5).attr('width',25).attr('height',25).attr('fill','none').attr('stroke',RED);
txt(1587,747,[['设',GRAY]],{ff:CJK,fs:16,anchor:'middle'});
txt(1208,767,[['时间',RED,15],[': '+reportDate,RED]],{ff:MONO,fs:13.5});
const yS = d3.scaleLinear().domain([0,75]).range([855.5,772.7]);
shareTicks.forEach(v=>{ const y=Math.round(yS(v))+0.5; if(v===0) hline(1207,1600,y); else hline(1207,1600,y,RED,'1,2'); });
vline(1207.5,772,856,RED,'1,2');
const gSa = svg.append('g').attr('transform','translate(1207,0)').call(d3.axisLeft(yS).tickValues(shareTicks).tickFormat(d=>String(d)).tickSize(0).tickPadding(3));
gSa.select('.domain').remove();
gSa.selectAll('.tick text').attr('fill',RED).style('font-family',MONO).style('font-size','15px');
shareVals.forEach((v,k)=>{
  const x=xG(groupCats[k]), w=xG.bandwidth(), y0=yS(0), y1=yS(v);
  svg.append('rect').attr('x',x).attr('width',w).attr('y',y1).attr('height',y0-y1).attr('fill',`url(#sh${k})`);
  const chg=shareChange[k];
  txt(x, y1-2, [[chg, chg[0]==='+'?RED:GREEN]], {ff:MONO,fs:14});
  txt(x, 871, [[v.toFixed(2), shareColors[k]]], {ff:MONO,fs:14});
  txt(x+1, 895, [[groupCats[k], shareColors[k]]], {ff:CJK,fs:15});
});
hline(1208,1600,878.5,YEL);
groupCats.forEach(c=>vline(Math.round(xG(c))+0.5,874,878,YEL));
txt(1111,870,[['比例%',GRAY]],{ff:CJK,fs:15});
txt(1111,889,[['分类',GRAY]],{ff:CJK,fs:15});
</script>
</body></html>
